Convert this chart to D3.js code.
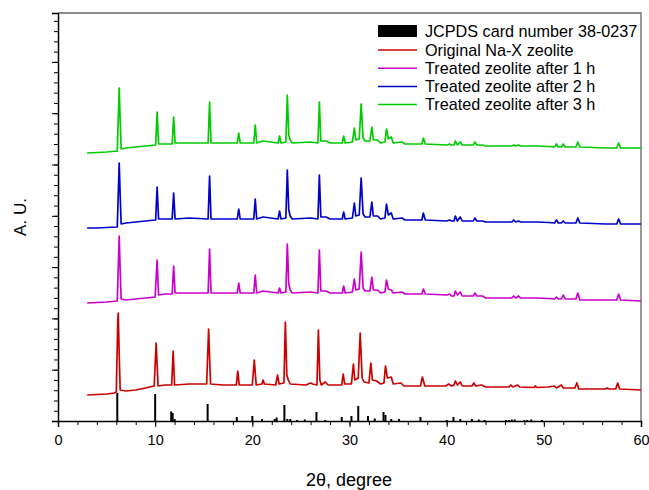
<!DOCTYPE html>
<html>
<head>
<meta charset="utf-8">
<script src="https://cdn.jsdelivr.net/npm/d3@7"></script>
<style>
  body { margin: 0; background: #fff; }
  text { font-family: "Liberation Sans", Arial, sans-serif; fill: #000; }
</style>
</head>
<body>
<div id="chart"></div>
<script>

// intensity in arbitrary units (traces are already stacked with their offsets)
var stickPos = [6.1, 10.0, 11.65, 11.8, 12.0, 15.4, 18.4, 20.0, 21.0, 22.3, 22.5, 23.3, 23.6, 23.9, 24.6, 25.4,
  26.6, 27.5, 29.2, 30.2, 30.9, 31.9, 32.6, 33.5, 33.7, 34.3, 35.1, 37.3, 40.0, 40.7, 41.4, 42.6, 43.3, 43.9,
  46.1, 46.4, 46.7, 47.0, 48.0, 48.3, 48.7, 49.8];
var stickHeight = [28, 27, 9.5, 8, 2, 17, 4, 5, 2, 2, 3.5, 16, 2, 2, 1, 1.5,
  9, 1, 4, 5, 15, 5, 2.5, 9, 6, 2, 2, 4, 1, 4, 2, 2, 1.5, 1,
  1, 1, 1.5, 1.5, 1, 1, 1.5, 1];

var originalNaX = [[3,26],[4,26.5],[5,27],[5.8,28],[6.0,29],[6.15,100],[6.2,108],[6.3,66],[6.4,31],[7,30],[8,31],[9,33],
  [9.9,35],[10.1,78],[10.3,35],[11,36],[11.7,36],[11.85,70],[12,36],[13.5,37],[15.3,37],[15.5,92],[15.7,37],[17,36],
  [18.35,36],[18.5,50],[18.65,36],[20,36],[20.2,61],[20.4,36],[21,37],[21.1,41],[21.25,37],[22.4,36],[22.6,46],[22.75,37],
  [23.25,38],[23.4,99],[23.55,46],[23.7,41],[23.9,37],[25.5,36],[26.0,38],[26.2,37],[26.65,36],[26.8,91],[26.95,41],
  [27.1,36],[27.5,39],[27.8,36],[29.2,36],[29.35,47],[29.5,37],[30.2,37],[30.4,57],[30.55,41],[30.9,43],[31.1,88],
  [31.3,43],[31.5,39],[32.0,38],[32.2,58],[32.35,41],[32.8,40],[33.2,37],[33.55,38],[33.7,55],[33.9,43],[34.3,44],
  [34.5,37],[35.3,38],[35.6,35],[37.3,35],[37.5,44],[37.75,35],[39.9,35],[40.2,37],[40.5,35],[40.75,36],[40.9,40],
  [41.1,36],[41.4,39],[41.6,35],[42.6,35],[42.8,38],[43.0,35],[43.6,36],[44,34],[46.4,34],[46.6,36],[46.8,34],
  [47.3,36],[47.5,34],[49.0,33.5],[49.1,35],[49.3,33.5],[50.4,34],[51.1,35],[51.3,33],[51.8,36],[52.0,33],[53.2,33],
  [53.4,38],[53.6,32],[56.3,32],[56.5,33],[56.7,32],[57.4,32],[57.6,38],[57.8,32],[60,31]];

var treated1h = [[3,118],[4,118.5],[5,119],[6.1,120],[6.3,185],[6.4,150],[6.5,122],[7,121],[8,122],[9,123],[10.0,124],
  [10.2,161],[10.35,126],[11,127],[11.75,127],[11.9,155],[12.05,128],[13.5,128],[15.45,128],[15.6,172],[15.75,128],
  [17,128],[18.45,128],[18.6,138],[18.75,128],[20.15,128],[20.3,146],[20.45,128],[21.1,130],[22.65,128],[22.8,133],
  [22.95,128],[23.45,129],[23.6,177],[23.75,137],[23.9,131],[24.1,128],[26.0,129],[26.75,128],[26.9,171],[27.05,130],
  [27.6,130],[28,128],[29.25,128],[29.4,135],[29.55,128],[30.3,129],[30.5,142],[30.65,131],[31.0,132],[31.2,169],
  [31.4,133],[31.6,130],[32.1,130],[32.3,144],[32.45,131],[32.9,131],[33.2,128],[33.65,129],[33.8,141],[34.0,132],
  [34.3,131],[34.5,128],[35.4,129],[35.7,127],[37.45,127],[37.6,132],[37.8,127],[40,126],[40.3,127],[40.5,125],
  [40.75,125],[40.9,130],[41.1,126],[41.4,129],[41.6,125],[42.75,125],[42.9,128],[43.1,125],[43.7,125],[44,123],
  [46.7,123],[46.9,125],[47.1,123],[47.4,125],[47.6,123],[49.2,123],[50.5,122.5],[51.1,122],[51.3,124],[51.5,122],
  [51.8,122],[52.0,126],[52.2,122],[53.3,122],[53.5,128],[53.7,121],[56.4,121],[57.5,121],[57.7,127],[57.9,121],[60,120]];

var treated2h = [[3,193],[4,193],[5,193.5],[6.1,194],[6.3,258],[6.4,225],[6.5,197],[7,198],[8,199],[9,200],[10.05,201],
  [10.2,234],[10.35,202],[11,202],[11.75,202],[11.9,228],[12.05,202],[13.5,203],[15.45,202],[15.6,245],[15.75,202],
  [17,202],[18.45,202],[18.6,212],[18.75,202],[20.15,202],[20.3,222],[20.45,202],[21.1,204],[22.65,202],[22.8,210],
  [22.95,202],[23.45,203],[23.6,251],[23.75,211],[23.9,205],[24.1,202],[26.0,203],[26.75,202],[26.9,246],[27.05,204],
  [27.6,204],[28,202],[29.25,202],[29.4,209],[29.55,202],[30.3,203],[30.5,218],[30.65,205],[31.0,206],[31.2,243],
  [31.4,207],[31.6,204],[32.1,204],[32.3,219],[32.45,205],[32.9,205],[33.2,202],[33.65,203],[33.8,217],[34.0,206],
  [34.3,208],[34.5,202],[35.4,203],[35.7,201],[37.45,201],[37.6,208],[37.8,201],[40,200],[40.3,201],[40.5,200],
  [40.75,200],[40.9,205],[41.1,200],[41.4,204],[41.6,200],[42.75,200],[42.9,203],[43.1,200],[43.7,200],[44,199],
  [46.7,199],[46.9,201],[47.1,199],[47.4,200],[47.6,199],[49.2,199],[50.5,198.5],[51.1,198],[51.3,201],[51.5,198],
  [51.8,198],[52.0,200],[52.2,198],[53.3,198],[53.5,203],[53.7,198],[56.4,197],[57.5,197],[57.7,202],[57.9,197],[60,197]];

var treated3h = [[3,268],[4,268.5],[5,269],[6.1,270],[6.3,333],[6.4,300],[6.5,272],[7,273],[8,274],[9,275],[10.05,276],
  [10.2,309],[10.35,277],[11,277],[11.75,277],[11.9,304],[12.05,278],[13.5,278],[15.45,278],[15.6,319],[15.75,278],
  [17,278],[18.45,278],[18.6,288],[18.75,278],[20.15,278],[20.3,296],[20.45,278],[21.1,280],[22.65,278],[22.8,285],
  [22.95,278],[23.45,279],[23.6,326],[23.75,286],[23.9,281],[24.1,278],[26.0,279],[26.75,278],[26.9,319],[27.05,280],
  [27.6,280],[28,278],[29.25,278],[29.4,285],[29.55,278],[30.3,279],[30.5,293],[30.65,281],[31.0,282],[31.2,317],
  [31.4,283],[31.6,280],[32.1,280],[32.3,294],[32.45,281],[32.9,281],[33.2,278],[33.65,279],[33.8,292],[34.0,282],
  [34.3,284],[34.5,278],[35.4,279],[35.7,277],[37.45,277],[37.6,283],[37.8,277],[40,276],[40.3,277],[40.5,276],
  [40.75,276],[40.9,280],[41.1,276],[41.4,279],[41.6,276],[42.75,276],[42.9,279],[43.1,276],[43.7,276],[44,275],
  [46.7,275],[46.9,276],[47.1,275],[47.4,276],[47.6,275],[49.2,275],[50.5,274.5],[51.1,274],[51.3,277],[51.5,274],
  [51.8,274],[52.0,277],[52.2,274],[53.3,274],[53.5,279],[53.7,274],[56.4,273],[57.5,273],[57.7,278],[57.9,273],[60,273]];

var seriesNames = ["Original Na-X zeolite", "Treated zeolite after 1 h", "Treated zeolite after 2 h", "Treated zeolite after 3 h"];
var seriesData = [originalNaX, treated1h, treated2h, treated3h];
var seriesColors = ["#cc0000", "#cc00cc", "#0000cc", "#00cc00"];
var stickName = "JCPDS card number 38-0237";

var svgWidth = 649;
var svgHeight = 490;

var margin = {
  top: 13,
  right: 8,
  bottom: 69,
  left: 58
};

var width = svgWidth - margin.left - margin.right;
var height = svgHeight - margin.top - margin.bottom;

var svg = d3.select("#chart")
  .append("svg")
  .attr("width", svgWidth)
  .attr("height", svgHeight);

var chartGroup = svg.append("g")
  .attr("transform", `translate(${margin.left}, ${margin.top})`);

var xScale = d3.scaleLinear()
  .domain([0, 60])
  .range([0, width]);

var yScale = d3.scaleLinear()
  .domain([0, 408])
  .range([height, 0]);

// frame (top and right)
chartGroup.append("path")
  .attr("d", `M0,0H${width}V${height}`)
  .attr("fill", "none")
  .attr("stroke", "#666")
  .attr("stroke-width", 1.3);

// x axis: labelled major ticks every 10, minor every 2
var xMinor = d3.axisBottom(xScale)
  .tickValues(d3.range(0, 61, 2))
  .tickSize(4)
  .tickFormat("");
var xMajor = d3.axisBottom(xScale)
  .tickValues(d3.range(0, 61, 10))
  .tickSize(6)
  .tickPadding(8)
  .tickFormat(d3.format("d"));

chartGroup.append("g")
  .attr("transform", `translate(0, ${height})`)
  .call(xMinor)
  .call(g => g.select(".domain").remove());

var xAxisG = chartGroup.append("g")
  .attr("transform", `translate(0, ${height})`)
  .call(xMajor);
xAxisG.selectAll("text")
  .style("font-size", "14.5px")
  .style("font-family", "'Liberation Sans', Arial, sans-serif");
xAxisG.select(".domain").attr("stroke-width", 1.5);

// y axis: no labels
var yStep = 51.3;
var yMinor = d3.axisLeft(yScale)
  .tickValues(d3.range(0, 408, yStep / 5))
  .tickSize(4)
  .tickFormat("");
var yMajor = d3.axisLeft(yScale)
  .tickValues(d3.range(0, 408, yStep))
  .tickSize(6)
  .tickFormat("");

chartGroup.append("g")
  .call(yMinor)
  .call(g => g.select(".domain").remove());
chartGroup.append("g")
  .call(yMajor)
  .call(g => g.select(".domain").attr("stroke-width", 1.5));

// reference sticks
chartGroup.append("g")
  .selectAll("line")
  .data(stickPos)
  .enter()
  .append("line")
  .attr("x1", d => xScale(d))
  .attr("x2", d => xScale(d))
  .attr("y1", yScale(0))
  .attr("y2", (d, i) => yScale(stickHeight[i]))
  .attr("stroke", "#000")
  .attr("stroke-width", 2);

// patterns
var line = d3.line()
  .x(d => xScale(d[0]))
  .y(d => yScale(d[1]));

chartGroup.selectAll(".trace")
  .data(seriesData)
  .enter()
  .append("path")
  .attr("class", "trace")
  .attr("d", line)
  .attr("fill", "none")
  .attr("stroke", (d, i) => seriesColors[i])
  .attr("stroke-width", 1.7)
  .attr("stroke-linejoin", "round");

// legend
var legend = svg.append("g")
  .attr("transform", "translate(378, 25)");

legend.append("rect")
  .attr("x", 0)
  .attr("y", 0)
  .attr("width", 39)
  .attr("height", 12)
  .attr("fill", "#000");

legend.append("text")
  .attr("x", 47)
  .attr("y", 11.8)
  .style("font-size", "16.2px")
  .text(stickName);

seriesNames.forEach(function(name, i) {
  var yy = 25 + 18.2 * i;
  legend.append("line")
    .attr("x1", 0)
    .attr("x2", 39)
    .attr("y1", yy)
    .attr("y2", yy)
    .attr("stroke", seriesColors[i])
    .attr("stroke-width", 1.5);
  legend.append("text")
    .attr("x", 47)
    .attr("y", yy + 5.8)
    .style("font-size", "16.2px")
    .text(name);
});

// axis titles
svg.append("text")
  .attr("x", 349)
  .attr("y", 486)
  .style("text-anchor", "middle")
  .style("font-size", "18px")
  .text("2θ, degree");

svg.append("text")
  .attr("transform", "translate(26, 217) rotate(-90)")
  .style("text-anchor", "middle")
  .style("font-size", "17px")
  .text("A. U.");

</script>
</body>
</html>
